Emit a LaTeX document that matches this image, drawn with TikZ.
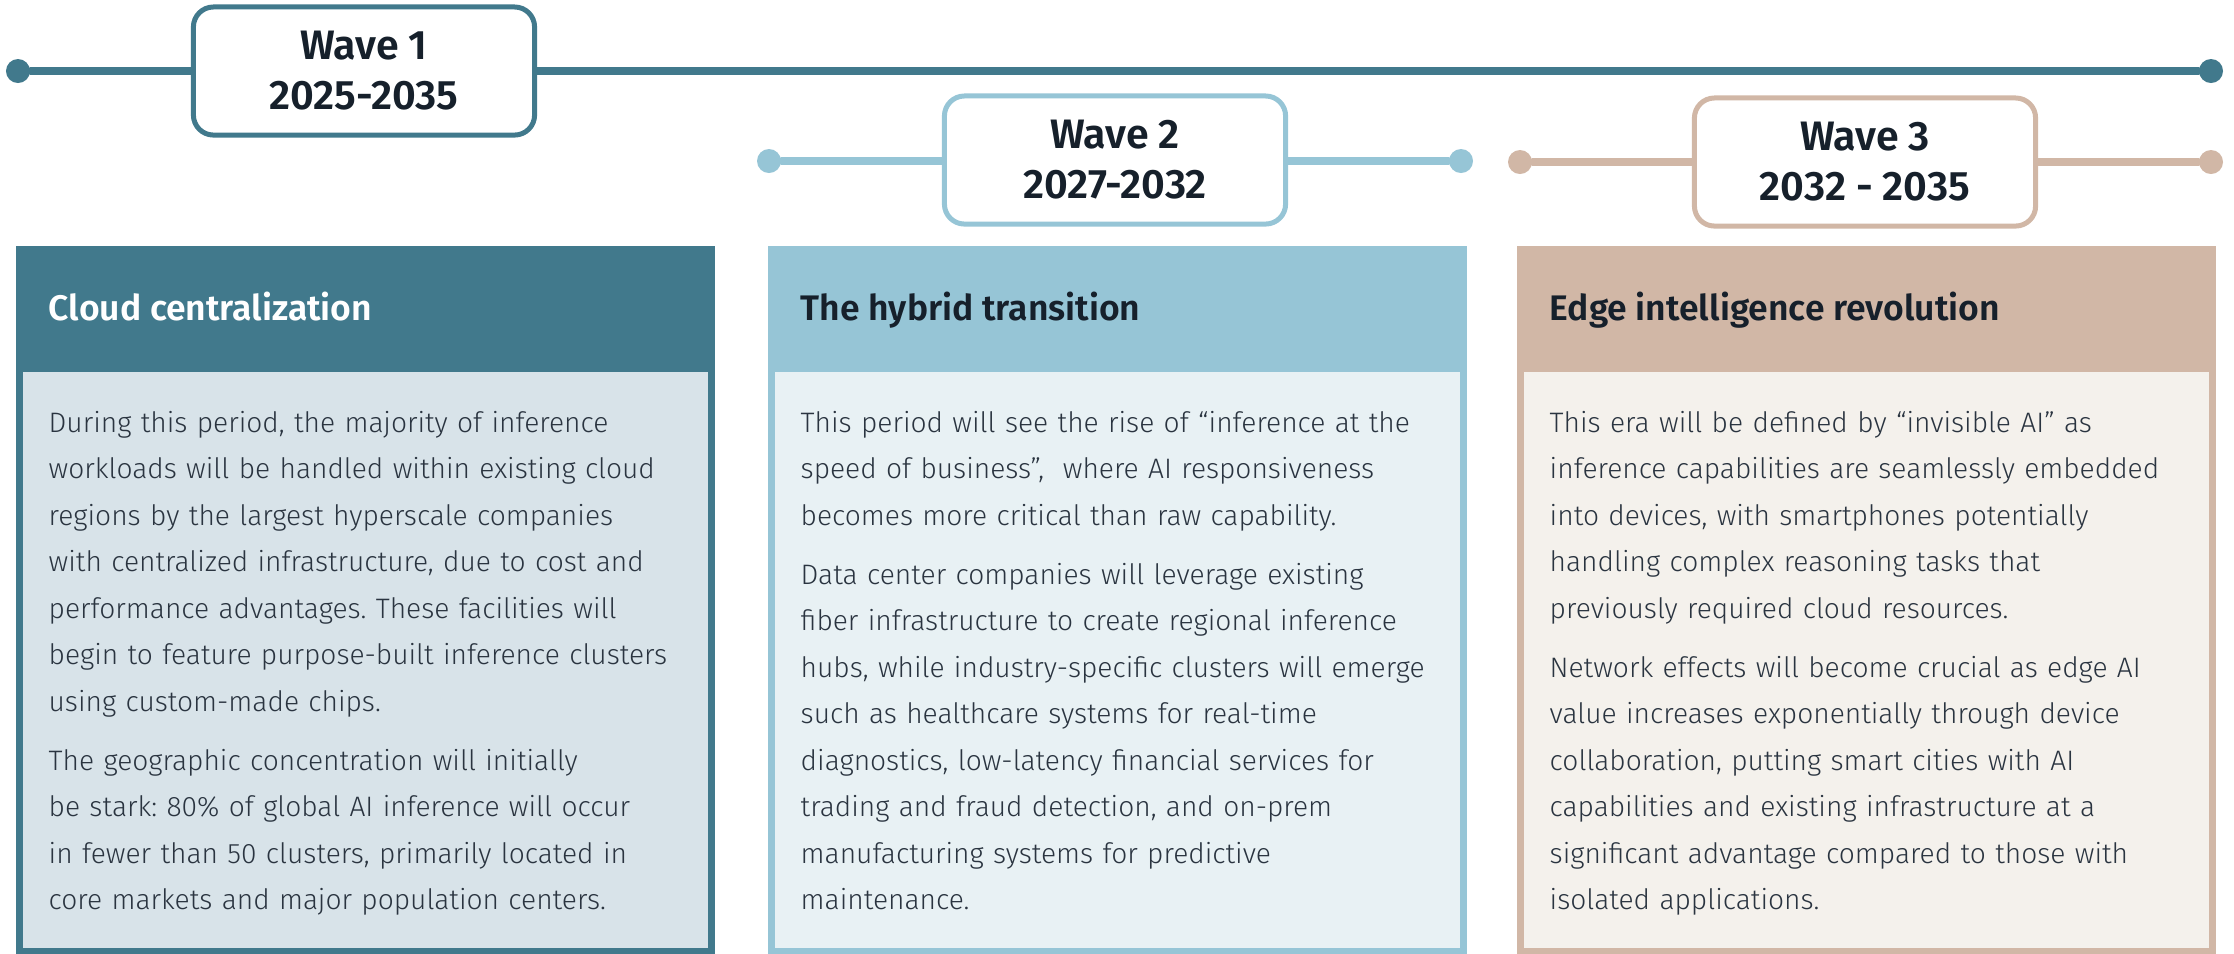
\documentclass[tikz,border=0pt]{standalone}
\usepackage{fontspec}
\setmainfont{Fira Sans}[UprightFont=* Light, BoldFont=* SemiBold]
\usetikzlibrary{positioning}
\frenchspacing
\definecolor{waveone}{HTML}{41798C}
\definecolor{wavetwo}{HTML}{96C5D6}
\definecolor{wavethree}{HTML}{D1B7A6}
\definecolor{bodyone}{HTML}{D8E3E9}
\definecolor{bodytwo}{HTML}{E8F1F4}
\definecolor{bodythree}{HTML}{F4F1EC}
\definecolor{ink}{HTML}{16202B}
\definecolor{bodyink}{HTML}{2A3440}
\tikzset{
  enddot/.style={circle,fill=#1,minimum size=0.24cm,inner sep=0pt},
  tline/.style={draw=#1,line width=0.08cm},
  wavebox/.style={draw=#1,line width=0.05cm,fill=white,rounded corners=0.2cm,
    minimum width=3.41cm,minimum height=1.28cm,align=center,text=ink,
    font=\bfseries\fontsize{11.7pt}{14.2pt}\selectfont},
  card/.style={fill=#1,anchor=north west,inner sep=0pt,minimum width=6.99cm,minimum height=7.08cm},
  cardbody/.style={fill=#1,anchor=north west,inner sep=0pt,minimum width=6.85cm,minimum height=5.76cm},
  headtext/.style={anchor=base west,inner sep=0pt,font=\bfseries\fontsize{10.1pt}{12pt}\selectfont},
  bodytext/.style={anchor=base west,inner sep=0pt,text width=6.6cm,align=left,text=bodyink,
    font=\fontsize{8pt}{13.23pt}\selectfont},
  every picture/.style={line cap=round,line join=round}
}

\begin{document}
\begin{tikzpicture}[x=0.01cm,y=-0.01cm]
    \useasboundingbox (0,0) rectangle (2234,953);

    % timeline for the whole decade
    \node[enddot=waveone] (t0) at (18,71) {};
    \node[enddot=waveone] (t1) at (2211,71) {};
    \draw[tline=waveone] (t0)--(t1);
    \node[wavebox=waveone] (w1) at (364,71) {Wave 1\\2025-2035};

    \node[enddot=wavetwo] (s0) at (769,161) {};
    \node[enddot=wavetwo] (s1) at (1461,161) {};
    \draw[tline=wavetwo] (s0)--(s1);
    \node[wavebox=wavetwo] (w2) at (1115,160) {Wave 2\\2027-2032};

    \node[enddot=wavethree] (r0) at (1520,162) {};
    \node[enddot=wavethree] (r1) at (2211,162) {};
    \draw[tline=wavethree] (r0)--(r1);
    \node[wavebox=wavethree] (w3) at (1865,162) {Wave 3\\2032 - 2035};

    % the three cards
    \node[card=waveone] (c1) at (15,245) {};
    \node[cardbody=bodyone] (b1) at (22,371) {};
    \node[headtext,text=white] (h1) at (48,320) {Cloud centralization};
    \node[bodytext] (p1) at (48,432) {During this period, the majority of inference\\
      workloads will be handled within existing cloud\\
      regions by the largest hyperscale companies\\
      with centralized infrastructure, due to cost and\\
      performance advantages. These facilities will\\
      begin to feature purpose-built inference clusters\\
      using custom-made chips.\\[3.6pt]
      The geographic concentration will initially\\
      be stark: 80\% of global AI inference will occur\\
      in fewer than 50 clusters, primarily located in\\
      core markets and major population centers.};

    \node[card=wavetwo] (c2) at (767,245) {};
    \node[cardbody=bodytwo] (b2) at (774,371) {};
    \node[headtext,text=ink] (h2) at (800,320) {The hybrid transition};
    \node[bodytext] (p2) at (800,432) {This period will see the rise of “inference at the\\
      speed of business”,~ where AI responsiveness\\
      becomes more critical than raw capability.\\[3.6pt]
      Data center companies will leverage existing\\
      fiber infrastructure to create regional inference\\
      hubs, while industry-specific clusters will emerge\\
      such as healthcare systems for real-time\\
      diagnostics, low-latency financial services for\\
      trading and fraud detection, and on-prem\\
      manufacturing systems for predictive\\
      maintenance.};

    \node[card=wavethree] (c3) at (1516,245) {};
    \node[cardbody=bodythree] (b3) at (1523,371) {};
    \node[headtext,text=ink] (h3) at (1549,320) {Edge intelligence revolution};
    \node[bodytext] (p3) at (1549,432) {This era will be defined by “invisible AI” as\\
      inference capabilities are seamlessly embedded\\
      into devices, with smartphones potentially\\
      handling complex reasoning tasks that\\
      previously required cloud resources.\\[3.6pt]
      Network effects will become crucial as edge AI\\
      value increases exponentially through device\\
      collaboration, putting smart cities with AI\\
      capabilities and existing infrastructure at a\\
      significant advantage compared to those with\\
      isolated applications.};
\end{tikzpicture}
\end{document}
